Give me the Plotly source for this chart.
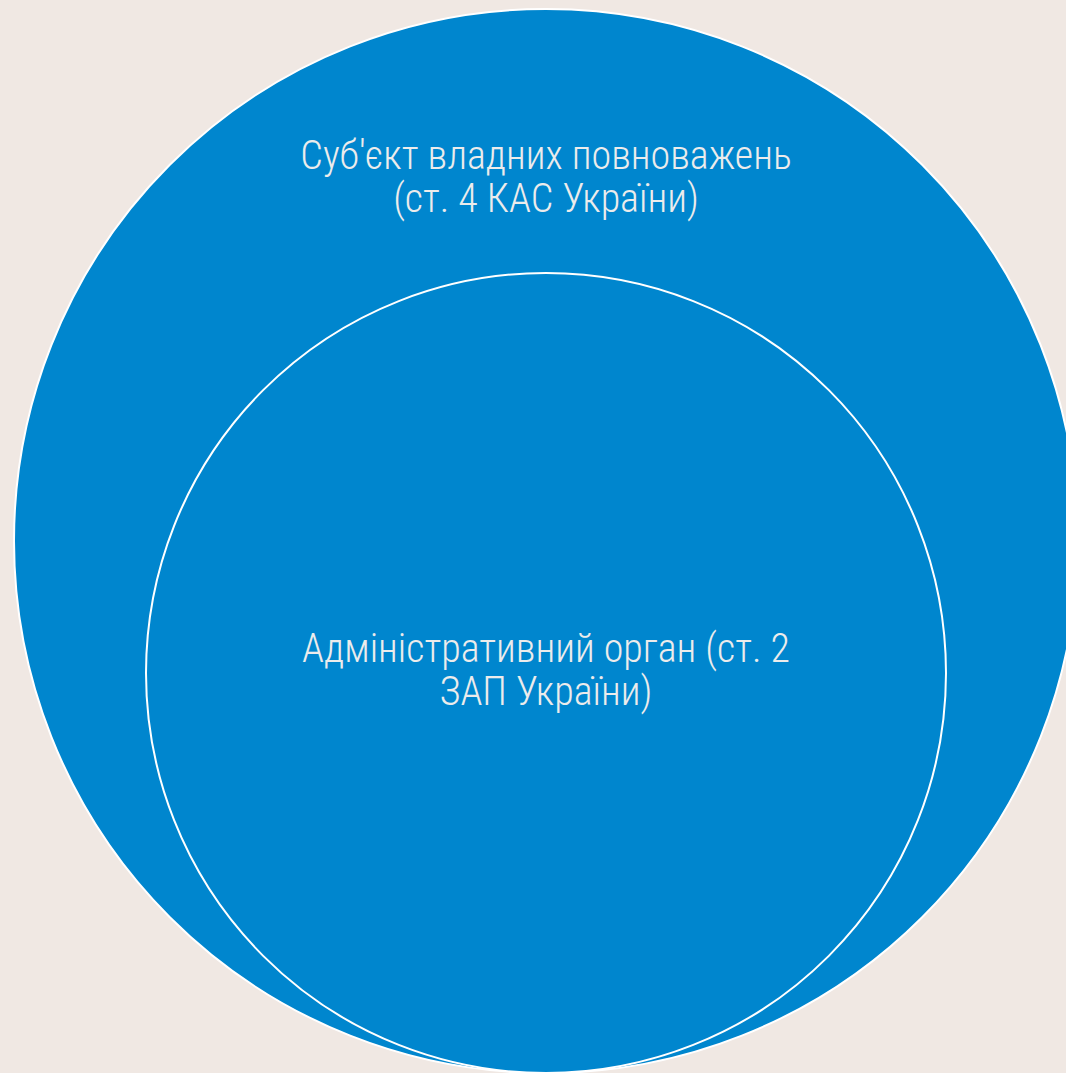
import plotly.graph_objects as go

# Data
outer_label_lines = ["Суб'єкт владних повноважень", "(ст. 4 КАС України)"]
inner_label_lines = ["Адміністративний орган (ст. 2", "ЗАП України)"]
radii = [532, 400]            # relative set sizes (outer contains inner)
centers_x = [546, 546]
centers_y = [541, 673]
outer_label_y = [159, 202]
inner_label_y = [652, 695]

W, H = 1066, 1073
BG = "#F0E8E3"
BLUE = "#0086CE"

fig = go.Figure()
shapes = []
for cx, cy, r in zip(centers_x, centers_y, radii):
    shapes.append(dict(type="circle", xref="x", yref="y",
                       x0=cx - r, x1=cx + r, y0=cy - r, y1=cy + r,
                       fillcolor=BLUE, line=dict(color="white", width=2),
                       layer="below"))

for lines, ys, cx in [(outer_label_lines, outer_label_y, centers_x[0]),
                      (inner_label_lines, inner_label_y, centers_x[1])]:
    fig.add_trace(go.Scatter(
        x=[cx] * len(lines), y=ys, mode="text", text=lines,
        textposition="middle center",
        textfont=dict(family="Roboto Condensed, Roboto", size=40, color="#ECECEC", weight=300),
        hoverinfo="skip", showlegend=False))

fig.update_layout(
    width=W, height=H, margin=dict(l=0, r=0, t=0, b=0),
    paper_bgcolor=BG, plot_bgcolor=BG, shapes=shapes,
    xaxis=dict(range=[0, W], visible=False, showgrid=False, zeroline=False, fixedrange=True),
    yaxis=dict(range=[H, 0], visible=False, showgrid=False, zeroline=False, fixedrange=True),
)
fig.write_html("out.html", config={"displayModeBar": False},
               post_script="document.body.style.margin='0';document.body.style.background='%s';" % BG)
